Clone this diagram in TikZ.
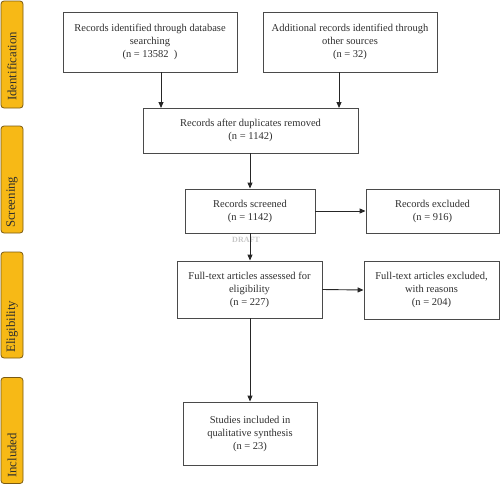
\documentclass[tikz,border=0pt]{standalone}
\usepackage{fontspec}
\setmainfont{Liberation Serif}
\usetikzlibrary{arrows.meta}
\definecolor{band}{HTML}{F7B916}
\definecolor{bandline}{HTML}{7A5A12}
\definecolor{boxline}{HTML}{4A4A4A}
\definecolor{txt}{HTML}{2E2E2E}
\begin{document}
\begin{tikzpicture}[x=1pt,y=-1pt,
  stagebox/.style={draw=bandline,fill=band,rounded corners=3pt,line width=0.8pt,minimum width=22pt,inner sep=0pt},
  stagetext/.style={rotate=90,anchor=west,inner sep=0pt,text=txt,font=\fontsize{12.8}{14}\selectfont},
  flowbox/.style={draw=boxline,line width=0.9pt,align=center,inner sep=2pt,text=txt,font=\fontsize{10.5}{13}\selectfont},
  flowarrow/.style={draw=black!85,line width=0.9pt,-{Triangle[length=6pt,width=5pt]}}]
\useasboundingbox (0,0) rectangle (500,485);
% stage bands
\node[stagebox,minimum height=107pt] (s1) at (12,54.5) {};
\node[stagetext] (t1) at (12,101) {Identification};
\node[stagebox,minimum height=107pt] (s2) at (12,179.5) {};
\node[stagetext] (t2) at (12,228) {Screening};
\node[stagebox,minimum height=106pt] (s3) at (12,305) {};
\node[stagetext] (t3) at (12,353) {Eligibility};
\node[stagebox,minimum height=106pt] (s4) at (12,430.5) {};
\node[stagetext] (t4) at (12,478) {Included};
% boxes
\node[flowbox,minimum width=174pt,minimum height=60pt] (b1) at (150,42) {Records identified through database\\searching\\(n = 13582~~)};
\node[flowbox,minimum width=174pt,minimum height=60pt] (b2) at (350,42) {Additional records identified through\\other sources\\(n = 32)};
\node[flowbox,minimum width=215pt,minimum height=45pt] (b3) at (250.5,130.5) {Records after duplicates removed\\(n = 1142)};
\node[flowbox,minimum width=130pt,minimum height=44pt] (b4) at (250,211) {Records screened\\(n = 1142)};
\node[flowbox,minimum width=133pt,minimum height=44pt] (b5) at (432.5,211) {Records excluded\\(n = 916)};
\node[flowbox,minimum width=145pt,minimum height=57pt] (b6) at (249.5,289.5) {Full-text articles assessed for\\eligibility\\(n = 227)};
\node[flowbox,minimum width=135pt,minimum height=58pt] (b7) at (431.5,290) {Full-text articles excluded,\\with reasons\\(n = 204)};
\node[flowbox,minimum width=134pt,minimum height=63pt] (b8) at (250,433.5) {Studies included in\\qualitative synthesis\\(n = 23)};
\node[text=black!22,font=\fontsize{8}{9}\selectfont\bfseries] (dr) at (246,239.5) {DRAFT};
% arrows
\draw[flowarrow] (b1.south -| 161,0) -- (161,108);
\draw[flowarrow] (b2.south -| 339,0) -- (339,108);
\draw[flowarrow] (b3.south -| b4.north) -- (b4.north);
\draw[flowarrow] (b4.east) -- (b5.west);
\draw[flowarrow] (b4.south) -- (b6.north -| b4.south);
\draw[flowarrow] (b6.east) -- (b7.west);
\draw[flowarrow] (b6.south -| b8.north) -- (b8.north);
\end{tikzpicture}
\end{document}
